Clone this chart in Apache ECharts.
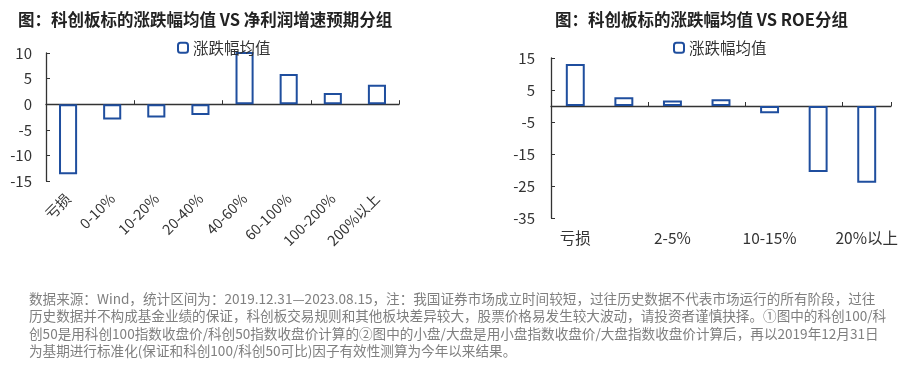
<!DOCTYPE html>
<html><head><meta charset="utf-8">
<script src="https://cdn.jsdelivr.net/npm/echarts@6/dist/echarts.min.js"></script>
<style>html,body{margin:0;padding:0;background:#fff}#c{width:906px;height:365px}</style>
</head><body><div id="c"></div>
<script>
const leftTitle = '图：科创板标的涨跌幅均值 VS 净利润增速预期分组';
const rightTitle = '图：科创板标的涨跌幅均值 VS ROE分组';
const seriesName = '涨跌幅均值';
const leftCategories = ['亏损','0-10%','10-20%','20-40%','40-60%','60-100%','100-200%','200%以上'];
const leftValues = [-13.7, -3.0, -2.6, -2.1, 12.0, 5.9, 2.2, 3.8];
const rightCategories = ['亏损','0-2%','2-5%','5-10%','10-15%','15-20%','20%以上'];
const rightValues = [13.1, 2.7, 1.7, 2.1, -2.3, -20.6, -24.0];
const leftTicks = {min: -15, max: 10, interval: 5};
const rightTicks = {min: -35, max: 15, interval: 10};
const footLines = [
 '数据来源：Wind，统计区间为：2019.12.31—2023.08.15，注：我国证券市场成立时间较短，过往历史数据不代表市场运行的所有阶段，过往',
 '历史数据并不构成基金业绩的保证，科创板交易规则和其他板块差异较大，股票价格易发生较大波动，请投资者谨慎抉择。①图中的科创100/科',
 '创50是用科创100指数收盘价/科创50指数收盘价计算的②图中的小盘/大盘是用小盘指数收盘价/大盘指数收盘价计算后，再以2019年12月31日',
 '为基期进行标准化(保证和科创100/科创50可比)因子有效性测算为今年以来结果。'
];

const FONT = '"Noto Sans CJK SC", sans-serif';
const BLUE = '#1f4e9e';
const AX = '#333333';
const chart = echarts.init(document.getElementById('c'), null, {renderer: 'canvas'});

function xAxes(grid, cats, rotate, interval, margin, fs) {
  return [
    {type:'category', gridIndex:grid, data:cats, position:'bottom',
     axisLine:{onZero:true, lineStyle:{color:AX, width:1.3}},
     axisTick:{show:true, inside:true, length:4, lineStyle:{color:AX}},
     axisLabel:{show:false}},
    {type:'category', gridIndex:grid, data:cats, position:'bottom',
     axisLine:{show:false, onZero:false}, axisTick:{show:false},
     axisLabel:{show:true, rotate:rotate, interval:interval, margin:margin, color:'#333', fontSize:fs, fontFamily:FONT}}
  ];
}
function yAxis(grid, t, margin) {
  return {type:'value', gridIndex:grid, min:t.min, max:t.max, interval:t.interval,
    splitLine:{show:false},
    axisLine:{show:true, lineStyle:{color:AX, width:1.3}},
    axisTick:{show:true, inside:true, length:4, lineStyle:{color:AX}},
    axisLabel:{color:'#333', fontSize:15, fontFamily:FONT, margin:margin}};
}

const xs = xAxes(0, leftCategories, 45, 0, 15, 14.5).concat(xAxes(1, rightCategories, 0, 1, 12, 15.5));

chart.setOption({
  animation:false,
  textStyle:{fontFamily:FONT},
  title:[
    {text:leftTitle, left:13, top:6, textStyle:{fontSize:16.5, fontWeight:'bold', color:'#222', fontFamily:FONT}},
    {text:rightTitle, left:550, top:6, textStyle:{fontSize:16.5, fontWeight:'bold', color:'#222', fontFamily:FONT}}
  ],
  legend:[
    {data:[seriesName], left:172, top:35, itemWidth:10, itemHeight:10, itemGap:4,
     textStyle:{fontSize:15.5, color:'#333', fontFamily:FONT}},
    {data:[seriesName], left:668, top:35, itemWidth:10, itemHeight:10, itemGap:4,
     textStyle:{fontSize:15.5, color:'#333', fontFamily:FONT}}
  ],
  grid:[
    {left:46, right:507, top:53, bottom:184, containLabel:false},
    {left:551, right:15, top:58, bottom:147, containLabel:false}
  ],
  xAxis: xs,
  yAxis:[yAxis(0, leftTicks, 14), yAxis(1, rightTicks, 16)],
  series:[
    {name:seriesName, type:'bar', xAxisIndex:0, yAxisIndex:0, data:leftValues, barWidth:'41%', clip:true,
     itemStyle:{color:'#fff', borderColor:BLUE, borderWidth:2}},
    {name:seriesName, type:'bar', xAxisIndex:2, yAxisIndex:1, data:rightValues, barWidth:'39%', clip:true,
     itemStyle:{color:'#fff', borderColor:BLUE, borderWidth:2}}
  ],
  graphic: footLines.map((s,i)=>({type:'text', left:29, top:292 + i*17.5,
     style:{text:s, fill:'#7f7f7f', font:'13.6px ' + FONT}}))
});
</script></body></html>
